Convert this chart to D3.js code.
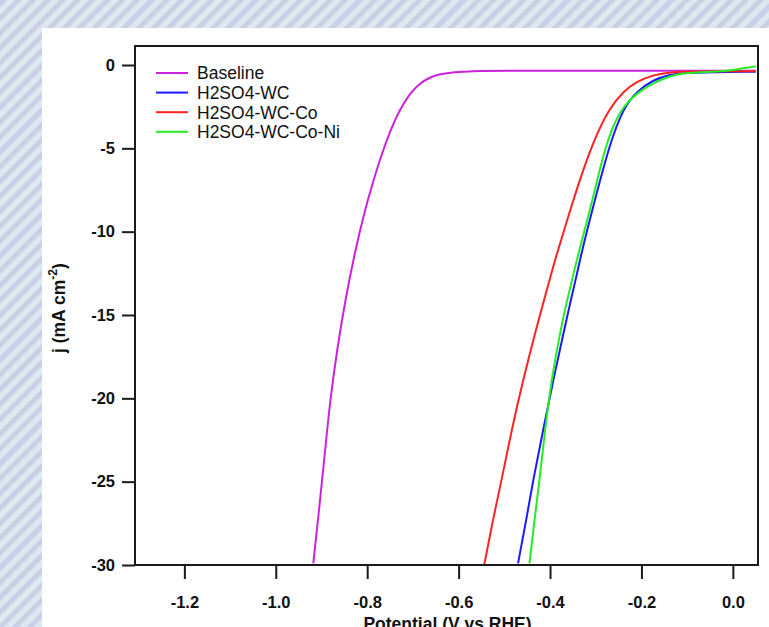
<!DOCTYPE html>
<html>
<head>
<meta charset="utf-8">
<script src="https://cdn.jsdelivr.net/npm/d3@7"></script>
<style>
  html, body { margin: 0; padding: 0; background: #fff; }
  svg { display: block; font-family: "Liberation Sans", Arial, sans-serif; }
</style>
</head>
<body>
<svg id="chart" width="769" height="627"></svg>
<script>
// Polarization curves (LSV): potential (V vs RHE) and current density (mA cm^-2)
const seriesNames = ["Baseline", "H2SO4-WC", "H2SO4-WC-Co", "H2SO4-WC-Co-Ni"];
const seriesColors = ["#cc22dd", "#1a1aff", "#ff2222", "#22ee22"];

const baselineV = [-0.918, -0.903, -0.892, -0.881, -0.866, -0.848, -0.826, -0.805, -0.786, -0.769, -0.749, -0.729, -0.709, -0.689, -0.667, -0.641, -0.608, -0.575, -0.500, -0.300, 0.050];
const baselineJ = [-29.9, -26.1, -23.1, -20.1, -17.1, -14.1, -11.1, -8.7, -6.9, -5.4, -3.9, -2.7, -1.8, -1.2, -0.78, -0.54, -0.42, -0.36, -0.35, -0.35, -0.34];

const wcV = [-0.470, -0.452, -0.437, -0.415, -0.393, -0.369, -0.357, -0.344, -0.329, -0.299, -0.270, -0.240, -0.211, -0.175, -0.138, -0.100, 0.050];
const wcJ = [-29.9, -27.3, -24.9, -21.9, -18.9, -15.9, -14.4, -12.9, -11.0, -7.8, -4.8, -2.6, -1.6, -0.9, -0.56, -0.45, -0.40];

const wcCoV = [-0.544, -0.525, -0.506, -0.484, -0.459, -0.431, -0.416, -0.401, -0.386, -0.357, -0.328, -0.299, -0.270, -0.240, -0.211, -0.175, -0.138, -0.080, 0.050];
const wcCoJ = [-30.0, -27.3, -24.9, -21.9, -18.9, -15.9, -14.4, -12.9, -11.4, -8.8, -6.3, -4.2, -2.6, -1.6, -1.0, -0.6, -0.42, -0.38, -0.38];

const wcCoNiV = [-0.445, -0.434, -0.423, -0.411, -0.397, -0.377, -0.365, -0.352, -0.335, -0.306, -0.284, -0.262, -0.240, -0.211, -0.175, -0.138, -0.100, -0.030, 0.000, 0.020, 0.050];
const wcCoNiJ = [-29.9, -27.3, -24.9, -21.9, -18.9, -15.9, -14.4, -12.9, -11.0, -8.0, -5.4, -3.6, -2.5, -1.7, -1.1, -0.64, -0.46, -0.40, -0.30, -0.20, -0.08];

const xTicks = [-1.2, -1.0, -0.8, -0.6, -0.4, -0.2, 0.0];
const yTicks = [0, -5, -10, -15, -20, -25, -30];

const seriesV = [baselineV, wcV, wcCoV, wcCoNiV];
const seriesJ = [baselineJ, wcJ, wcCoJ, wcCoNiJ];

const svg = d3.select("#chart");
const W = 769, H = 627;
const plot = { left: 135, right: 758, top: 46, bottom: 565 };

// striped backdrop
const defs = svg.append("defs");
const pat = defs.append("pattern")
  .attr("id", "stripes")
  .attr("patternUnits", "userSpaceOnUse")
  .attr("width", 10.5).attr("height", 10.5)
  .attr("patternTransform", "rotate(45)");
pat.append("rect").attr("width", 10.5).attr("height", 10.5).attr("fill", "#dde9f0");
pat.append("rect").attr("width", 5).attr("height", 10.5).attr("fill", "#c9cfe5");
svg.append("rect").attr("width", W).attr("height", H).attr("fill", "url(#stripes)");

// white panel
svg.append("rect").attr("x", 42).attr("y", 28).attr("width", W - 42).attr("height", H - 28).attr("fill", "#fff");

defs.append("clipPath").attr("id", "plotClip")
  .append("rect")
  .attr("x", plot.left).attr("y", plot.top)
  .attr("width", plot.right - plot.left).attr("height", plot.bottom - plot.top);

const x = d3.scaleLinear().domain([-1.308, 0.055]).range([plot.left, plot.right]);
const y = d3.scaleLinear().domain([-30, 1.14]).range([plot.bottom, plot.top]);

const fmtX = v => (v < 0 ? "-" : "") + Math.abs(v).toFixed(1);
const fmtY = v => (v < 0 ? "-" : "") + Math.abs(v);

// curves
const line = d3.line()
  .x(d => x(d[0]))
  .y(d => y(d[1]))
  .curve(d3.curveBasis);

const curves = svg.append("g").attr("clip-path", "url(#plotClip)");
seriesNames.forEach((name, i) => {
  const pts = seriesV[i].map((v, k) => [v, seriesJ[i][k]]);
  curves.append("path")
    .datum(pts)
    .attr("d", line)
    .attr("fill", "none")
    .attr("stroke", seriesColors[i])
    .attr("stroke-width", 2)
    .attr("stroke-linejoin", "round");
});

// frame
svg.append("rect")
  .attr("x", plot.left).attr("y", plot.top)
  .attr("width", plot.right - plot.left).attr("height", plot.bottom - plot.top)
  .attr("fill", "none").attr("stroke", "#1a1a1a").attr("stroke-width", 2);

// axes
const yAxis = svg.append("g")
  .attr("transform", `translate(${plot.left},0)`)
  .call(d3.axisLeft(y).tickValues(yTicks).tickFormat(fmtY).tickSize(13).tickSizeOuter(0).tickPadding(7));
const xAxis = svg.append("g")
  .attr("transform", `translate(0,${plot.bottom})`)
  .call(d3.axisBottom(x).tickValues(xTicks).tickFormat(fmtX).tickSize(14).tickSizeOuter(0).tickPadding(17));

[yAxis, xAxis].forEach(g => {
  g.select(".domain").remove();
  g.selectAll(".tick line").attr("stroke", "#1a1a1a").attr("stroke-width", 2);
  g.selectAll(".tick text")
    .attr("fill", "#111")
    .style("font-family", '"Liberation Sans", Arial, sans-serif')
    .style("font-size", "16.5px")
    .style("font-weight", "bold");
});

// axis titles (x title sits on the lower edge of the panel)
svg.append("text")
  .attr("x", (plot.left + plot.right) / 2 + 1)
  .attr("y", 630)
  .attr("text-anchor", "middle")
  .attr("fill", "#111")
  .style("font-size", "17.5px").style("font-weight", "bold")
  .text("Potential (V vs RHE)");

const yt = svg.append("text")
  .attr("transform", "translate(65,353) rotate(-90)")
  .attr("text-anchor", "start")
  .attr("fill", "#111")
  .style("font-size", "17.5px").style("font-weight", "bold");
yt.append("tspan").text("j (mA cm");
yt.append("tspan").attr("dy", -8).style("font-size", "12px").text("-2");
yt.append("tspan").attr("dy", 8).text(")");

// legend
const legend = svg.append("g");
seriesNames.forEach((name, i) => {
  const cy = 73 + i * 19.6;
  legend.append("line")
    .attr("x1", 156).attr("x2", 188).attr("y1", cy).attr("y2", cy)
    .attr("stroke", seriesColors[i]).attr("stroke-width", 2);
  legend.append("text")
    .attr("x", 197).attr("y", cy).attr("dy", "0.36em")
    .attr("fill", "#111")
    .style("font-size", "17.5px")
    .text(name);
});
</script>
</body>
</html>
